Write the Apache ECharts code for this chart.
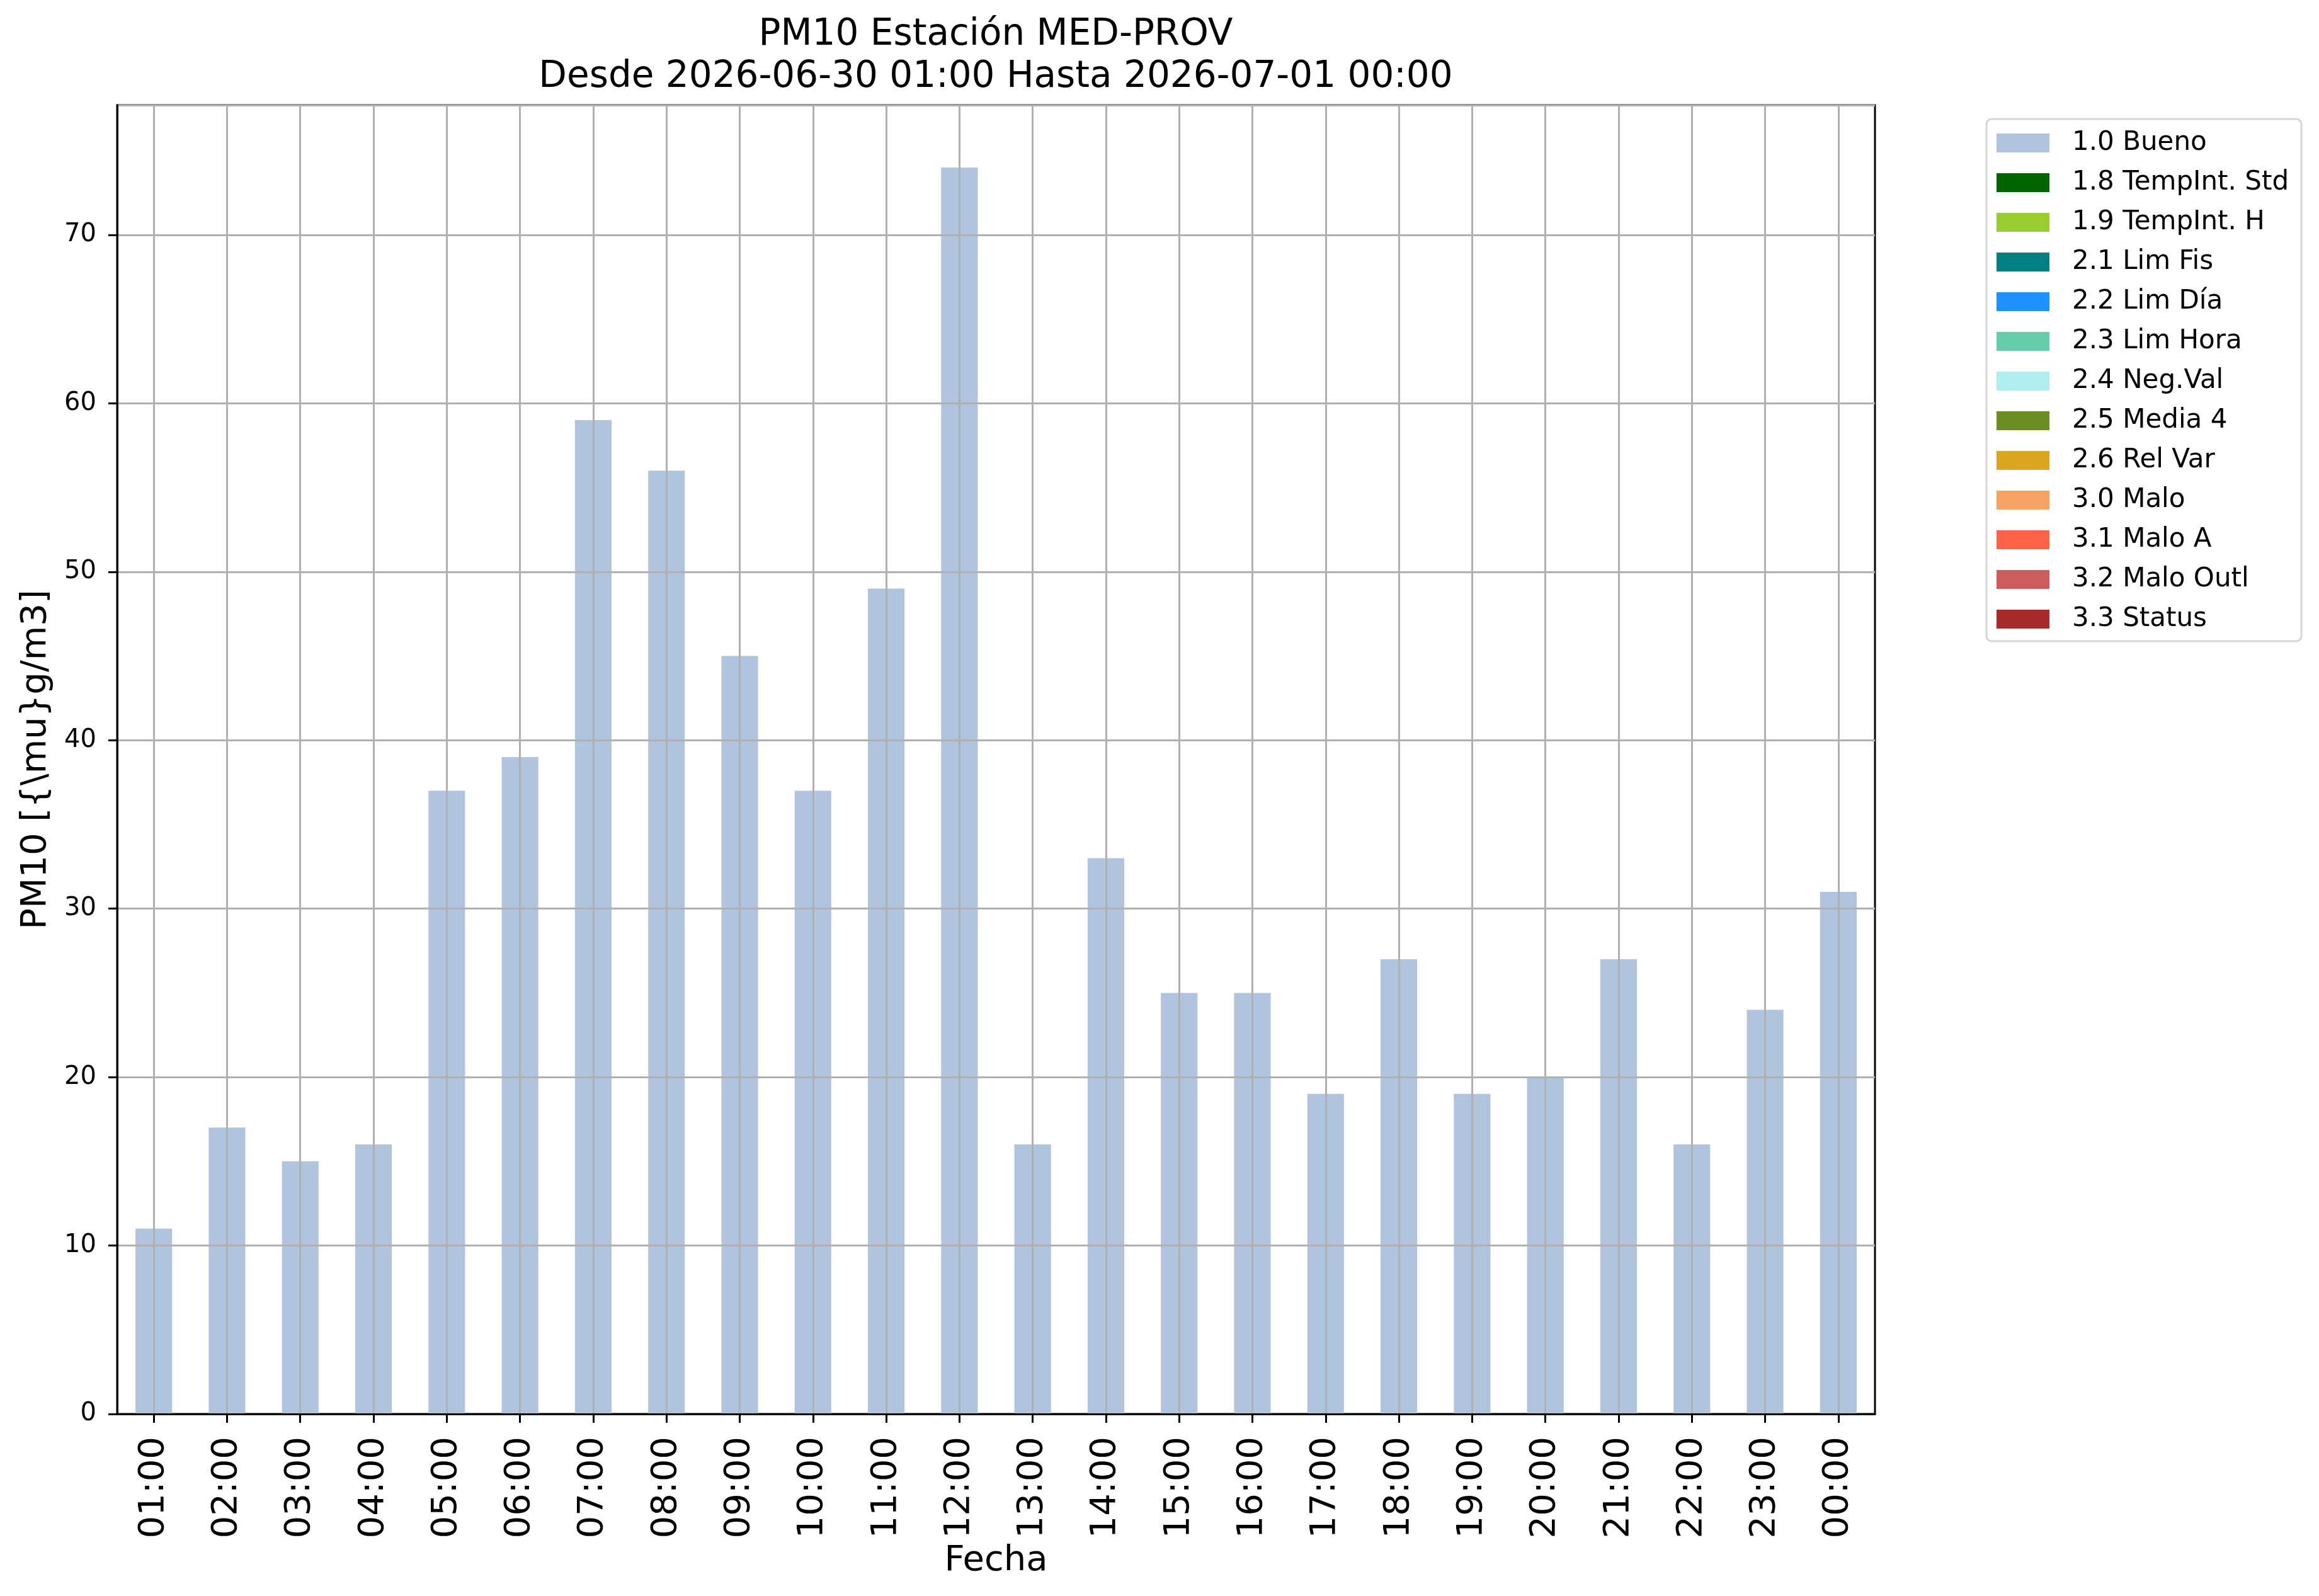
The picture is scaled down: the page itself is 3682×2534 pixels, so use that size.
<!DOCTYPE html>
<html>
<head>
<meta charset="utf-8">
<script src="https://cdn.jsdelivr.net/npm/echarts@6/dist/echarts.min.js"></script>
<style>
  html, body { margin: 0; padding: 0; background: #fff; }
  #chart { width: 3682px; height: 2534px; }
</style>
</head>
<body>
<div id="chart"></div>
<script>
var chart = echarts.init(document.getElementById('chart'));

// horas
var horas = ['01:00', '02:00', '03:00', '04:00', '05:00', '06:00', '07:00', '08:00',
  '09:00', '10:00', '11:00', '12:00', '13:00', '14:00', '15:00', '16:00',
  '17:00', '18:00', '19:00', '20:00', '21:00', '22:00', '23:00', '00:00'];

// valores PM10 (todos con flag 1.0 Bueno)
var bueno = [11, 17, 15, 16, 37, 39, 59, 56, 45, 37, 49, 74,
  16, 33, 25, 25, 19, 27, 19, 20, 27, 16, 24, 31];

// flags de la leyenda
var flags = ['1.0 Bueno', '1.8 TempInt. Std', '1.9 TempInt. H', '2.1 Lim Fis', '2.2 Lim Día',
  '2.3 Lim Hora', '2.4 Neg.Val', '2.5 Media 4', '2.6 Rel Var', '3.0 Malo',
  '3.1 Malo A', '3.2 Malo Outl', '3.3 Status'];
var colores = ['#B0C4DE', '#006400', '#9ACD32', '#008080', '#1E90FF',
  '#66CDAA', '#AFEEEE', '#6B8E23', '#DAA520', '#F4A460',
  '#FF6347', '#CD5C5C', '#A52A2A'];

var yTicks = [0, 10, 20, 30, 40, 50, 60, 70];

var fuente = 'DejaVu Sans';

var series = flags.map(function (f, i) {
  return {
    name: f,
    type: 'bar',
    stack: 'total',
    barWidth: '50%',
    itemStyle: { color: colores[i] },
    data: i === 0 ? bueno : []
  };
});

var option = {
  animation: false,
  backgroundColor: '#fff',
  textStyle: { fontFamily: fuente },
  color: colores,
  graphic: [{
    type: 'text',
    x: 1581, y: 56,
    style: { text: 'PM10 Estación MED-PROV', font: '58px "DejaVu Sans"', fill: '#000', align: 'center', verticalAlign: 'middle' }
  }, {
    type: 'text',
    x: 1581, y: 123,
    style: { text: 'Desde 2026-06-30 01:00 Hasta 2026-07-01 00:00', font: '58px "DejaVu Sans"', fill: '#000', align: 'center', verticalAlign: 'middle' }
  }],
  legend: {
    orient: 'vertical',
    left: 3154,
    top: 189,
    padding: [17, 20, 14, 16],
    itemWidth: 84,
    itemHeight: 30,
    itemGap: 21,
    icon: 'rect',
    borderColor: '#d6d6d6',
    borderWidth: 3,
    borderRadius: 8,
    backgroundColor: '#fff',
    textStyle: { fontFamily: fuente, fontSize: 42, color: '#000', padding: [0, 0, 0, 31] },
    data: flags
  },
  grid: {
    left: 186, top: 167, width: 2791, height: 2078,
    show: true, borderColor: '#000', borderWidth: 3,
    containLabel: false
  },
  xAxis: {
    type: 'category',
    data: horas,
    z: 5,
    boundaryGap: true,
    name: 'Fecha',
    nameLocation: 'middle',
    nameGap: 202,
    nameTextStyle: { fontFamily: fuente, fontSize: 56, color: '#000' },
    axisLine: { show: true, lineStyle: { color: '#000', width: 3 } },
    axisTick: { show: true, alignWithLabel: true, length: 14, lineStyle: { color: '#000', width: 3 } },
    axisLabel: { rotate: 90, margin: 36, fontFamily: fuente, fontSize: 56, color: '#000', interval: 0 },
    splitLine: { show: true, alignWithLabel: true, interval: 0, lineStyle: { color: '#b0b0b0', width: 3 } }
  },
  yAxis: {
    type: 'value',
    min: yTicks[0],
    max: 77.7,
    interval: 10,
    z: 5,
    name: 'PM10 [{\\mu}g/m3]',
    nameLocation: 'middle',
    nameRotate: 90,
    nameGap: 101,
    nameTextStyle: { fontFamily: fuente, fontSize: 56, color: '#000' },
    axisLine: { show: true, lineStyle: { color: '#000', width: 3 } },
    axisTick: { show: true, length: 14, lineStyle: { color: '#000', width: 3 } },
    axisLabel: {
      showMaxLabel: false, margin: 33, fontFamily: fuente, fontSize: 40, color: '#000',
      formatter: function (v) { return yTicks.indexOf(v) >= 0 ? String(v) : ''; }
    },
    splitLine: { show: true, lineStyle: { color: '#b0b0b0', width: 3 } }
  },
  series: series
};

chart.setOption(option);
</script>
</body>
</html>
